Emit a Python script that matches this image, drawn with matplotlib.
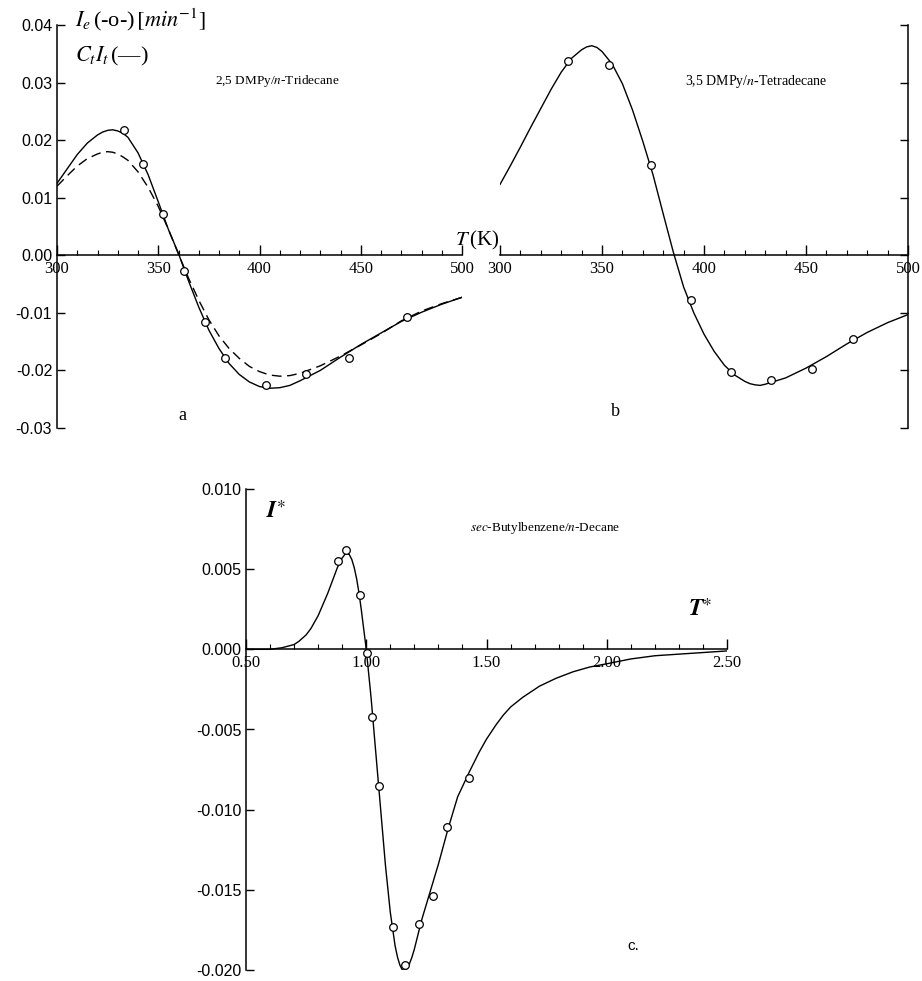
import numpy as np
import matplotlib
matplotlib.use('Agg')
import matplotlib.pyplot as plt
from matplotlib.ticker import MultipleLocator, FormatStrFormatter

plt.rcParams['font.family'] = ['Liberation Serif', 'DejaVu Serif']
plt.rcParams['mathtext.fontset'] = 'stix'

# ---- panel a : 2,5 DMPy / n-Tridecane ----
Ta_exp = [333, 342.5, 352.3, 362.5, 373, 383, 403, 423, 444, 473]
Ia_exp = [0.0217, 0.0159, 0.0071, -0.0027, -0.0116, -0.0179, -0.0226, -0.0207, -0.0178, -0.0107]

Ta_fit = [300, 305, 310, 315, 320, 322.5, 325, 327.5, 330, 332.5, 335, 340, 345, 350, 355,
          360, 365, 370, 375, 380, 385, 390, 395, 400, 405, 410, 415, 420, 430, 440, 450,
          460, 470, 480, 490, 500]
Ia_fit = [0.0125, 0.0150, 0.0175, 0.0195, 0.0209, 0.0214, 0.0217, 0.0218, 0.0216, 0.0212,
          0.0205, 0.0178, 0.0140, 0.0093, 0.0045, 0.0003, -0.0045, -0.0090, -0.0130,
          -0.0162, -0.0188, -0.0207, -0.0220, -0.0228, -0.0231, -0.0230, -0.0226, -0.0218,
          -0.0200, -0.0177, -0.0155, -0.0135, -0.0115, -0.0099, -0.0085, -0.0073]
Ia_dash = [0.0120, 0.0138, 0.0155, 0.0168, 0.0176, 0.0179, 0.0180, 0.0179, 0.0176, 0.0171,
           0.0165, 0.0145, 0.0118, 0.0085, 0.0045, 0.0002, -0.0040, -0.0078, -0.0112,
           -0.0140, -0.0162, -0.0179, -0.0193, -0.0202, -0.0208, -0.0210, -0.0209, -0.0205,
           -0.0192, -0.0175, -0.0156, -0.0136, -0.0114, -0.0097, -0.0084, -0.0073]

# ---- panel b : 3,5 DMPy / n-Tetradecane ----
Tb_exp = [333.3, 353.4, 374, 393.6, 413, 432.8, 453, 473]
Ib_exp = [0.0338, 0.0330, 0.0157, -0.0078, -0.0202, -0.0217, -0.0198, -0.0145]

Tb_fit = [300, 305, 310, 315, 320, 325, 330, 335, 340, 342.5, 345, 347.5, 350, 355, 360, 365,
          370, 375, 380, 385, 390, 395, 400, 405, 410, 415, 420, 422.5, 425, 427.5, 430, 440,
          450, 460, 470, 480, 490, 500]
Ib_fit = [0.0123, 0.0155, 0.0188, 0.0222, 0.0255, 0.0288, 0.0318, 0.0342, 0.0357, 0.0362,
          0.0364, 0.0361, 0.0354, 0.0332, 0.0298, 0.0252, 0.0198, 0.0140, 0.0072, 0.0005,
          -0.0055, -0.0100, -0.0137, -0.0167, -0.0191, -0.0208, -0.0219, -0.0223, -0.0225,
          -0.0226, -0.0224, -0.0213, -0.0196, -0.0176, -0.0154, -0.0134, -0.0117, -0.0103]

# ---- panel c : sec-Butylbenzene / n-Decane (reduced) ----
Tc_exp = [0.884, 0.915, 0.974, 1.002, 1.025, 1.052, 1.113, 1.162, 1.221, 1.279, 1.334, 1.426]
Ic_exp = [0.0055, 0.0062, 0.0034, -0.0002, -0.0042, -0.0085, -0.0173, -0.0197, -0.0171,
          -0.0154, -0.0111, -0.0080]

Tc_fit = [0.50, 0.55, 0.60, 0.65, 0.70, 0.72, 0.75, 0.77, 0.80, 0.82, 0.84, 0.86, 0.88, 0.90,
          0.91, 0.92, 0.93, 0.94, 0.95, 0.96, 0.97, 0.98, 0.99, 1.00, 1.02, 1.04, 1.06, 1.08,
          1.10, 1.12, 1.13, 1.14, 1.15, 1.16, 1.17, 1.18, 1.19, 1.20, 1.215, 1.23, 1.26, 1.30,
          1.34, 1.38, 1.43, 1.47, 1.50, 1.54, 1.57, 1.60, 1.65, 1.68, 1.72, 1.79, 1.86, 1.93,
          2.00, 2.10, 2.20, 2.30, 2.40, 2.50]
Ic_fit = [0.0000, 0.0000, 0.0000, 0.0001, 0.0003, 0.0005, 0.0009, 0.0013, 0.0021, 0.0028,
          0.0035, 0.0043, 0.0051, 0.0057, 0.0059, 0.0060, 0.0059, 0.0056, 0.0051, 0.0044,
          0.0035, 0.0024, 0.0012, 0.0000, -0.0030, -0.0065, -0.0100, -0.0135, -0.0164,
          -0.0185, -0.0192, -0.0197, -0.0200, -0.0200, -0.0199, -0.0196, -0.0192, -0.0187,
          -0.0178, -0.0169, -0.0154, -0.0134, -0.0112, -0.0092, -0.0076, -0.0064, -0.0056,
          -0.0047, -0.0041, -0.0036, -0.0030, -0.0027, -0.0023, -0.0018, -0.0014, -0.0011,
          -0.0009, -0.0006, -0.0004, -0.0003, -0.0002, -0.0001]

W, H = 922, 981
fig = plt.figure(figsize=(W / 100, H / 100), dpi=100)
fig.set_facecolor('white')


def px(x, y):
    return x / W, 1 - y / H


def style_axis(ax, xmaj, xmin, ymaj, xfmt, yfmt):
    ax.spines['bottom'].set_position(('data', 0))
    ax.spines['top'].set_visible(False)
    ax.xaxis.set_major_locator(MultipleLocator(xmaj))
    ax.xaxis.set_minor_locator(MultipleLocator(xmin))
    ax.yaxis.set_major_locator(MultipleLocator(ymaj))
    ax.xaxis.set_major_formatter(FormatStrFormatter(xfmt))
    ax.yaxis.set_major_formatter(FormatStrFormatter(yfmt))
    ax.tick_params(axis='x', which='major', direction='in', length=7, width=1, pad=4,
                   labelsize=12)
    ax.tick_params(axis='x', which='minor', direction='in', length=3.5, width=0.8)
    ax.tick_params(axis='y', direction='in', length=6, width=1, labelsize=11.5)
    for lab in ax.get_yticklabels():
        lab.set_family(['Liberation Sans Narrow', 'Liberation Sans', 'DejaVu Sans'])
    for s in ax.spines.values():
        s.set_linewidth(1.1)


line_kw = dict(color='black', lw=1.0)
mark_kw = dict(ls='none', marker='o', ms=5.5, mfc='white', mec='black', mew=0.9, zorder=5)

# panel a
ax_a = fig.add_axes([57 / W, 1 - 428 / H, 405 / W, 403 / H])
ax_a.set_xlim(300, 500)
ax_a.set_ylim(-0.03, 0.04)
ax_a.spines['right'].set_visible(False)
style_axis(ax_a, 50, 10, 0.01, '%d', '%.2f')
ax_a.plot(Ta_fit, Ia_fit, **line_kw)
ax_a.plot(Ta_fit, Ia_dash, color='black', lw=1.0, dashes=(7, 4))
ax_a.plot(Ta_exp, Ia_exp, **mark_kw)
ax_a.patch.set_alpha(0)

# panel b
ax_b = fig.add_axes([500 / W, 1 - 428 / H, 408 / W, 403 / H])
ax_b.set_xlim(300, 500)
ax_b.set_ylim(-0.03, 0.04)
ax_b.spines['left'].set_visible(False)
style_axis(ax_b, 50, 10, 0.01, '%d', '%.2f')
ax_b.yaxis.tick_right()
ax_b.tick_params(axis='y', labelright=False, direction='in', length=6)
ax_b.plot(Tb_fit, Ib_fit, **line_kw)
ax_b.plot(Tb_exp, Ib_exp, **mark_kw)
ax_b.patch.set_alpha(0)

# panel c
ax_c = fig.add_axes([246 / W, 1 - 970 / H, 481 / W, 481 / H])
ax_c.set_xlim(0.5, 2.5)
ax_c.set_ylim(-0.020, 0.010)
ax_c.spines['right'].set_visible(False)
style_axis(ax_c, 0.5, 0.1, 0.005, '%.2f', '%.3f')
ax_c.plot(Tc_fit, Ic_fit, **line_kw)
ax_c.plot(Tc_exp, Ic_exp, **mark_kw)
ax_c.patch.set_alpha(0)

# annotations
fig.text(*px(75, 20), r'$I_e\,$(-o-)$\,[min^{-1}]$', fontsize=16, va='center', ha='left')
fig.text(*px(75, 56), r'$C_t I_t\,$(—)', fontsize=16, va='center', ha='left')
fig.text(*px(215, 81), r'2,5 DMPy/$n$-Tridecane', fontsize=9.5, va='center', ha='left')
fig.text(*px(685, 81), r'3,5 DMPy/$n$-Tetradecane', fontsize=10, va='center', ha='left')
fig.text(*px(477, 240), r'$T\,$(K)', fontsize=15, va='center', ha='center')
fig.text(*px(182, 416), 'a', fontsize=13, va='center', ha='center')
fig.text(*px(615, 412), 'b', fontsize=13, va='center', ha='center')

fig.text(*px(276, 512), r'$\boldsymbol{I}^{\ast}$', fontsize=17, va='center', ha='center')
fig.text(*px(700, 610), r'$\boldsymbol{T}^{\ast}$', fontsize=17, va='center', ha='center')
fig.text(*px(470, 528), r'$sec$-Butylbenzene/$n$-Decane', fontsize=9.5, va='center',
         ha='left')
fig.text(*px(633, 946), 'c.', fontsize=11, va='center', ha='center',
         family=['Liberation Sans', 'DejaVu Sans'])

plt.savefig('out.png', dpi=100)
